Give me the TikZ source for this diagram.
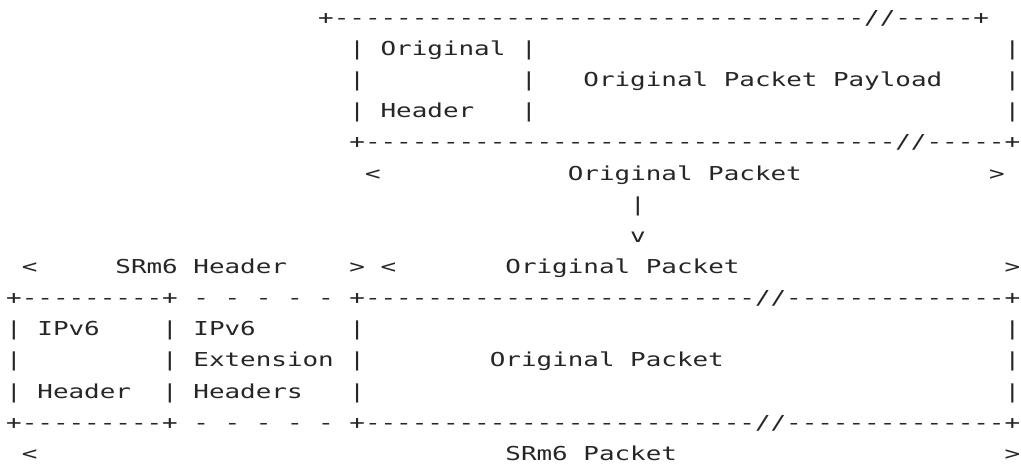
\documentclass[tikz,border=0pt]{standalone}
\usepackage{fontspec}
\newfontfamily\asciifont{DejaVu Sans Mono}[FakeStretch=1.35]

% one fixed cell per character
\newlength\cellw
\setlength\cellw{11.7pt}
\newcommand\cells[1]{\cellnext#1\relax}
\newcommand\cellnext[1]{\ifx\relax#1\else\makebox[\cellw]{#1}\expandafter\cellnext\fi}

\begin{document}
\begin{tikzpicture}[
            x=11.7pt, y=-23.3625pt,
            ascii/.style={
                anchor=base west, inner sep=0pt, outer sep=0pt,
                text=black!85,
                font=\asciifont\fontsize{14.4pt}{17pt}\selectfont
            }
            ]

            \useasboundingbox (-0.4,-0.78) rectangle (65.05,14.18);

            % original packet
            \node[ascii] (origtop) at (20,0) {\cells{+----------------------------------//-----+}};
            \node[ascii] (orighdr1) at (24,1) {\cells{Original}};
            \node[ascii] (orighdr2) at (24,3) {\cells{Header}};
            \node[ascii] (payload1) at (37,2) {\cells{Original}};
            \node[ascii] (payload2) at (46,2) {\cells{Packet}};
            \node[ascii] (payload3) at (53,2) {\cells{Payload}};
            \foreach \r in {1,2,3} {
                \node[ascii] (origl-\r) at (22,\r) {\cells{|}};
                \node[ascii] (origm-\r) at (33,\r) {\cells{|}};
                \node[ascii] (origr-\r) at (64,\r) {\cells{|}};
            }
            \node[ascii] (origbot) at (22,4) {\cells{+----------------------------------//-----+}};

            \node[ascii] (origlt) at (23,5) {\cells{<}};
            \node[ascii] (origlbl1) at (36,5) {\cells{Original}};
            \node[ascii] (origlbl2) at (45,5) {\cells{Packet}};
            \node[ascii] (origgt) at (63,5) {\cells{>}};

            % arrow down
            \node[ascii] (shaft) at (40,6) {\cells{|}};
            \node[ascii] (head) at (40,7) {\cells{v}};

            % SRm6 packet
            \node[ascii] (hdrlt) at (1,8) {\cells{<}};
            \node[ascii] (hdrlbl1) at (7,8) {\cells{SRm6}};
            \node[ascii] (hdrlbl2) at (12,8) {\cells{Header}};
            \node[ascii] (hdrgt) at (22,8) {\cells{>}};
            \node[ascii] (innerlt) at (24,8) {\cells{<}};
            \node[ascii] (innerlbl1) at (32,8) {\cells{Original}};
            \node[ascii] (innerlbl2) at (41,8) {\cells{Packet}};
            \node[ascii] (innergt) at (64,8) {\cells{>}};

            \foreach \r in {9,13} {
                \node[ascii] (ipv6edge-\r) at (0,\r) {\cells{+---------+}};
                \foreach \c in {12,14,...,20}
                    \node[ascii] (extedge-\r-\c) at (\c,\r) {\cells{-}};
                \node[ascii] (inneredge-\r) at (22,\r) {\cells{+-------------------------//--------------+}};
            }
            \foreach \r in {10,11,12} {
                \foreach \c in {0,10,22,64}
                    \node[ascii] (bar-\r-\c) at (\c,\r) {\cells{|}};
            }

            \node[ascii] (ipv6a) at (2,10) {\cells{IPv6}};
            \node[ascii] (ipv6b) at (2,12) {\cells{Header}};
            \node[ascii] (exta) at (12,10) {\cells{IPv6}};
            \node[ascii] (extb) at (12,11) {\cells{Extension}};
            \node[ascii] (extc) at (12,12) {\cells{Headers}};
            \node[ascii] (inner1) at (31,11) {\cells{Original}};
            \node[ascii] (inner2) at (40,11) {\cells{Packet}};

            \node[ascii] (pktlt) at (1,14) {\cells{<}};
            \node[ascii] (pktlbl1) at (32,14) {\cells{SRm6}};
            \node[ascii] (pktlbl2) at (37,14) {\cells{Packet}};
            \node[ascii] (pktgt) at (64,14) {\cells{>}};

        \end{tikzpicture}
\end{document}
